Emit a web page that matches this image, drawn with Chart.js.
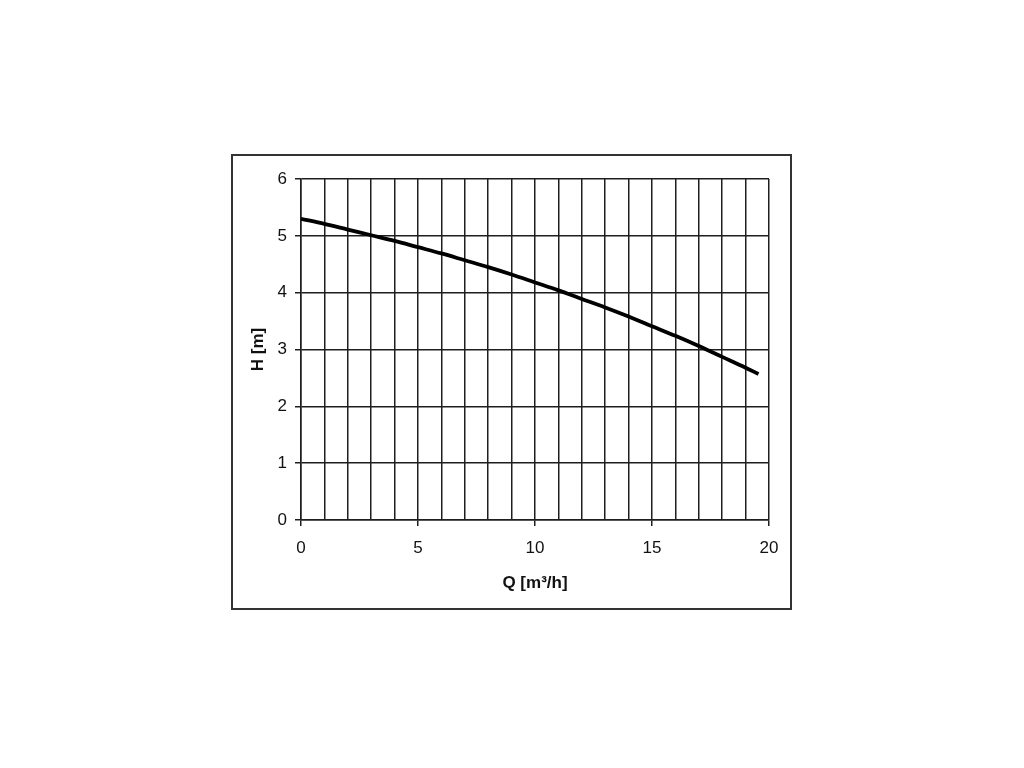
<!DOCTYPE html>
<html>
<head>
<meta charset="utf-8">
<script src="https://cdn.jsdelivr.net/npm/chart.js@4.4.0/dist/chart.umd.min.js"></script>
<style>
    html, body { margin: 0; padding: 0; background: #fff; }
    #frame {
        position: absolute; left: 231px; top: 154px;
        width: 557px; height: 452px;
        border: 2px solid #333;
    }
    #wrap { position: absolute; left: 0; top: 0; width: 1024px; height: 768px; }
</style>
</head>
<body>
<div id="frame"></div>
<div id="wrap"><canvas id="pumpChart"></canvas></div>
<script>
// Q [m3/h] and H [m]
const flowValues = [0, 1, 2, 3, 4, 5, 6, 7, 8, 9, 10, 11, 12, 13, 14, 15, 16, 17, 18, 19, 19.55];
const headValues = [5.30, 5.21, 5.11, 5.01, 4.91, 4.80, 4.69, 4.57, 4.45, 4.32, 4.18, 4.04, 3.89, 3.74, 3.58, 3.41, 3.24, 3.06, 2.87, 2.68, 2.57];
const xTickLabels = [0, 5, 10, 15, 20];
const yTickLabels = [0, 1, 2, 3, 4, 5, 6];

const gridColor = '#1e1e1e';
const tickFont = { family: '"Liberation Sans", Arial, sans-serif', size: 17 };
const titleFont = { family: '"Liberation Sans", Arial, sans-serif', size: 17, weight: 'bold' };

const ctx = document.getElementById('pumpChart').getContext('2d');
new Chart(ctx, {
    type: 'line',
    data: {
        datasets: [{
            data: flowValues.map((q, i) => ({ x: q, y: headValues[i] })),
            borderColor: '#000',
            borderWidth: 3.8,
            pointRadius: 0,
            fill: false,
            cubicInterpolationMode: 'monotone'
        }]
    },
    options: {
        responsive: true,
        maintainAspectRatio: false,
        animation: false,
        layout: { padding: { left: 231, top: 179, right: 255, bottom: 160 } },
        plugins: { legend: { display: false }, tooltip: { enabled: false } },
        scales: {
            x: {
                type: 'linear',
                min: 0,
                max: 20,
                afterFit: function (scale) { scale.height = 88; },
                ticks: {
                    stepSize: 1,
                    autoSkip: false,
                    maxRotation: 0,
                    color: '#111',
                    font: tickFont,
                    padding: 12,
                    callback: v => xTickLabels.includes(v) ? String(v) : ''
                },
                grid: {
                    color: gridColor,
                    lineWidth: 1.5,
                    tickLength: 6,
                    tickColor: c => (c.tick && xTickLabels.includes(c.tick.value)) ? gridColor : 'rgba(0,0,0,0)'
                },
                border: { color: gridColor, width: 1.5 },
                title: {
                    display: true,
                    text: 'Q [m³/h]',
                    color: '#111',
                    font: titleFont,
                    padding: { top: 0, bottom: 14 }
                }
            },
            y: {
                min: 0,
                max: 6,
                afterFit: function (scale) { scale.width = 70; },
                ticks: {
                    stepSize: 1,
                    color: '#111',
                    font: tickFont,
                    padding: 8,
                    callback: v => yTickLabels.includes(v) ? String(v) : ''
                },
                grid: { color: gridColor, lineWidth: 1.5, tickLength: 6 },
                border: { color: gridColor, width: 1.5 },
                title: {
                    display: true,
                    text: 'H [m]',
                    color: '#111',
                    font: titleFont,
                    padding: { top: 17, bottom: 0 }
                }
            }
        }
    }
});
</script>
</body>
</html>
